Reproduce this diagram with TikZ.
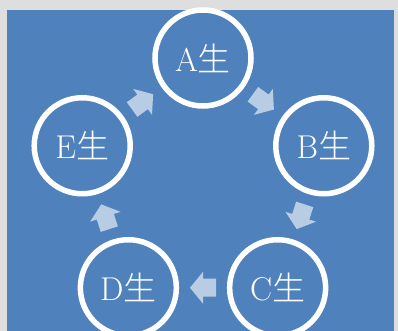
\documentclass[tikz,border=0pt]{standalone}
\usepackage{fontspec}
\newfontfamily\cjk{Noto Sans CJK SC}[UprightFont=* Light]
\usetikzlibrary{calc}
\definecolor{slideblue}{HTML}{4F81BD}
\definecolor{framegray}{HTML}{DEDEDE}
\tikzset{
  x=1pt, y=1pt,
  ring/.style={circle, draw=white, line width=5.5pt, minimum size=96pt,
    inner sep=0pt, text=white, font=\fontsize{33}{38}\selectfont},
  cyclearrow/.style={fill=white, fill opacity=0.6, draw=none},
}
% block arrow: total length 26, head length 13, head width 32, shaft width 18
\newcommand\blockarrow[2]{%
  \fill[cyclearrow, shift={(#1)}, rotate=#2] (-13,-9) -- (0,-9) -- (0,-16) -- (13,0)
    -- (0,16) -- (0,9) -- (-13,9) -- cycle;}
\begin{document}
\begin{tikzpicture}
  % slide frame
  \fill[framegray] (0,0) rectangle (398,-331);
  \useasboundingbox (0,0) rectangle (398,-331);
  \fill[slideblue] (7,-10) rectangle (394,-331);
  % centre of the cycle
  \coordinate (o) at (203,-185);
  \def\R{127}
  \node[ring] (A) at ($(o)+(90:\R)$) {A\cjk{生}};
  \node[ring] (B) at ($(o)+(18:\R)$) {B\cjk{生}};
  \node[ring] (C) at ($(o)+(-54:\R)$) {C\cjk{生}};
  \node[ring] (D) at ($(o)+(-126:\R)$) {D\cjk{生}};
  \node[ring] (E) at ($(o)+(162:\R)$) {E\cjk{生}};
  % clockwise arrows between the rings
  \coordinate (ab) at ($(A)!0.5!(B)$);
  \coordinate (bc) at ($(B)!0.5!(C)$);
  \coordinate (cd) at ($(C)!0.5!(D)$);
  \coordinate (de) at ($(D)!0.5!(E)$);
  \coordinate (ea) at ($(E)!0.5!(A)$);
  \blockarrow{ab}{-36}
  \blockarrow{bc}{-108}
  \blockarrow{cd}{180}
  \blockarrow{de}{108}
  \blockarrow{ea}{36}
\end{tikzpicture}
\end{document}
